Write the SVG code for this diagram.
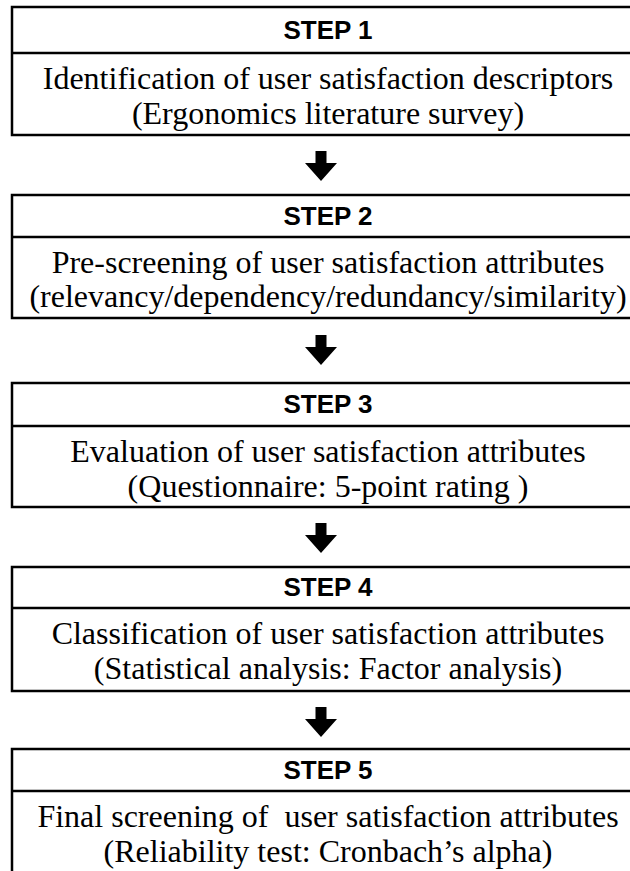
<svg xmlns="http://www.w3.org/2000/svg" width="630" height="871" viewBox="0 0 630 871">
  <style>
    .box { fill: #ffffff; stroke: #000000; stroke-width: 2.5; }
    .div { stroke: #000000; stroke-width: 2.5; }
    .head { font-family: "Liberation Sans", Arial, sans-serif; font-weight: bold; font-size: 26px; fill: #000; text-anchor: middle; }
    .body { font-family: "Liberation Serif", "Times New Roman", "DejaVu Serif", serif; font-size: 32px; fill: #000; text-anchor: middle; }
    .arrow { fill: #000000; }
  </style>
  <defs>
    <!-- block arrow pointing down, origin at top of shaft -->
    <path id="down" d="M -5.5 0 H 5.5 V 12 H 16 L 0 30 L -16 12 H -5.5 Z"/>
  </defs>
  <rect width="630" height="871" fill="#ffffff"/>

  <g id="connectors" class="arrow">
    <use href="#down" x="321" y="151"/>
    <use href="#down" x="321" y="335"/>
    <use href="#down" x="321" y="523"/>
    <use href="#down" x="321" y="707"/>
  </g>

  <g id="step1">
    <rect class="box" x="12" y="7" width="640" height="128"/>
    <line class="div" x1="12" y1="53" x2="652" y2="53"/>
    <text class="head" x="328" y="39">STEP 1</text>
    <text class="body" x="328" y="89">Identification of user satisfaction descriptors</text>
    <text class="body" x="328" y="124">(Ergonomics literature survey)</text>
  </g>

  <g id="step2">
    <rect class="box" x="12" y="195" width="640" height="123"/>
    <line class="div" x1="12" y1="237" x2="652" y2="237"/>
    <text class="head" x="328" y="225">STEP 2</text>
    <text class="body" x="328" y="273">Pre-screening of user satisfaction attributes</text>
    <text class="body" x="328" y="307">(relevancy/dependency/redundancy/similarity)</text>
  </g>

  <g id="step3">
    <rect class="box" x="12" y="383" width="640" height="124"/>
    <line class="div" x1="12" y1="426" x2="652" y2="426"/>
    <text class="head" x="328" y="413">STEP 3</text>
    <text class="body" x="328" y="462">Evaluation of user satisfaction attributes</text>
    <text class="body" x="328" y="497">(Questionnaire: 5-point rating )</text>
  </g>

  <g id="step4">
    <rect class="box" x="12" y="567" width="640" height="124"/>
    <line class="div" x1="12" y1="608" x2="652" y2="608"/>
    <text class="head" x="328" y="596">STEP 4</text>
    <text class="body" x="328" y="644">Classification of user satisfaction attributes</text>
    <text class="body" x="328" y="679">(Statistical analysis: Factor analysis)</text>
  </g>

  <g id="step5">
    <rect class="box" x="12" y="749" width="640" height="140"/>
    <line class="div" x1="12" y1="791" x2="652" y2="791"/>
    <text class="head" x="328" y="779">STEP 5</text>
    <text class="body" x="328" y="827" xml:space="preserve">Final screening of  user satisfaction attributes</text>
    <text class="body" x="328" y="862">(Reliability test: Cronbach’s alpha)</text>
  </g>
</svg>
